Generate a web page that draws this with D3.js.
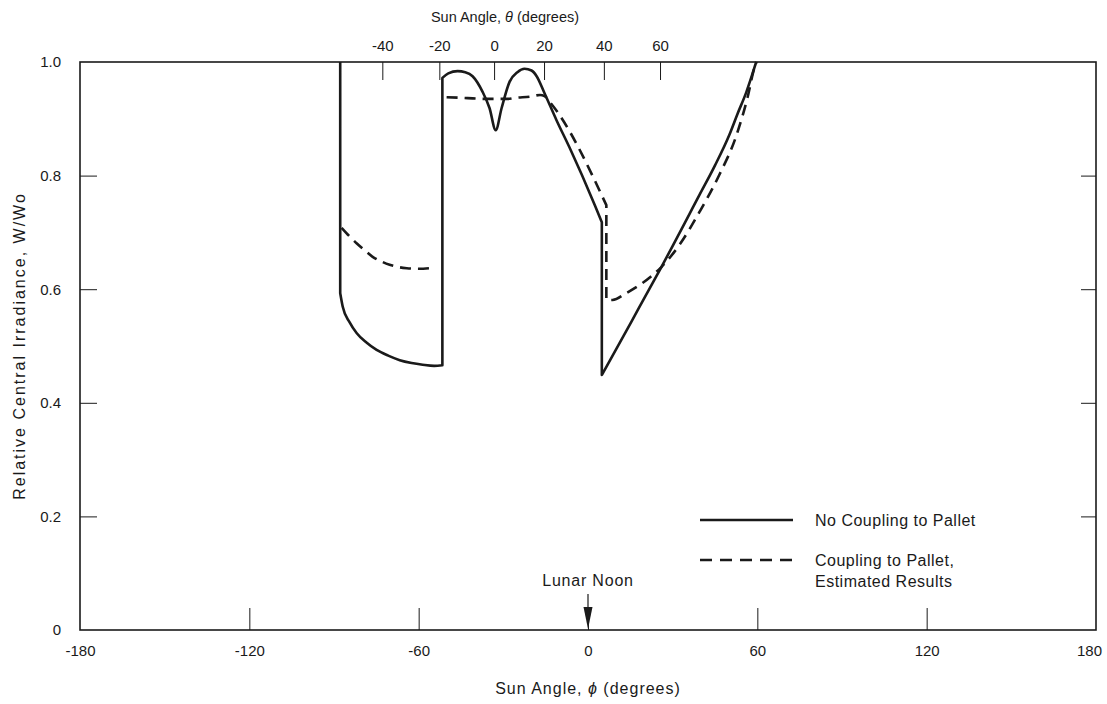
<!DOCTYPE html>
<html>
<head>
<meta charset="utf-8">
<script src="https://cdn.jsdelivr.net/npm/d3@7"></script>
<style>
  html, body { margin: 0; padding: 0; background: #fff; }
  svg text { font-family: "Liberation Sans", Arial, Helvetica, sans-serif; fill: #1a1a1a; }
</style>
</head>
<body>
<svg id="chart" width="1107" height="704"></svg>
<script>
// ---- data ----
const phiTicks = [-180, -120, -60, 0, 60, 120, 180];
const yTicks = [0, 0.2, 0.4, 0.6, 0.8, 1.0];
const thetaTicks = [-40, -20, 0, 20, 40, 60];
const thetaTickPhi = [-72.7, -52.5, -33.1, -15.4, 5.8, 25.7];

// No coupling to pallet (solid)
const solidPhi = [-87.8, -87.8, -86.9, -84.5, -82, -78.5, -74.9, -70.8, -66.7, -62.5, -58.6, -54.5, -51.6,
                  -51.6, -49.5, -46.2, -43.5, -40.9, -37.3, -34.9, -32.7, -30.6, -27.8, -25, -22.5, -20, -18.2, -15.4, -11.2, -6.5, 2.5, 4.9,
                  4.9, 15.5, 26.0, 39.5, 45.0, 50.1, 53.0, 56.1, 58.0, 59.6];
const solidVal = [1.0, 0.593, 0.569, 0.542, 0.523, 0.506, 0.493, 0.483, 0.475, 0.470, 0.467, 0.465, 0.466,
                  0.972, 0.98, 0.984, 0.982, 0.975, 0.947, 0.919, 0.880, 0.919, 0.965, 0.982, 0.988, 0.985, 0.975, 0.945, 0.898, 0.849, 0.747, 0.718,
                  0.449, 0.544, 0.639, 0.766, 0.818, 0.872, 0.909, 0.947, 0.975, 1.0];

// Coupling to pallet, estimated results (dashed)
const dashLeftPhi = [-87.3, -84.5, -82, -79, -76.3, -73.3, -70.3, -67.2, -64.2, -60, -56.1];
const dashLeftVal = [0.708, 0.693, 0.681, 0.668, 0.657, 0.649, 0.643, 0.639, 0.637, 0.636, 0.637];
const dashRightPhi = [-50.1, -45, -40.9, -36.5, -32.7, -28.5, -25.6, -20.5, -17, -15.4, -13.6, 6.5,
                      6.5, 8.7, 13.5, 18.2, 22, 26.0, 32.4, 39.5, 46.5, 52.6, 56.5, 59.0, 59.8];
const dashRightVal = [0.938, 0.937, 0.936, 0.935, 0.935, 0.935, 0.937, 0.939, 0.942, 0.940, 0.930, 0.748,
                      0.581, 0.581, 0.593, 0.607, 0.621, 0.639, 0.678, 0.736, 0.801, 0.871, 0.937, 0.990, 1.0];

const legendLabels = ["No Coupling to Pallet", "Coupling to Pallet,", "Estimated Results"];

// ---- layout ----
const svg = d3.select("#chart");
const L = 80, R = 1096, T = 62, B = 630;
const x = d3.scaleLinear().domain([-180, 180]).range([L, R]);
const y = d3.scaleLinear().domain([0, 1]).range([B, T]);
const ink = "#1a1a1a";

// frame
svg.append("rect").attr("x", L).attr("y", T).attr("width", R - L).attr("height", B - T)
  .attr("fill", "none").attr("stroke", ink).attr("stroke-width", 1.6);

// bottom axis
const gb = svg.append("g").attr("transform", `translate(0,${B})`)
  .call(d3.axisBottom(x).tickValues(phiTicks).tickSize(-22).tickPadding(15).tickFormat(d3.format("d")));
gb.select(".domain").remove();
gb.selectAll(".tick line").attr("stroke", ink).attr("stroke-width", 1)
  .attr("display", d => (d === -180 || d === 180) ? "none" : null);
gb.selectAll(".tick text").attr("font-size", 15)
  .attr("dx", d => d === 180 ? -7 : 0)
  .text(d => d < 0 ? "-" + Math.abs(d) : d);

// left axis
const gl = svg.append("g").attr("transform", `translate(${L},0)`)
  .call(d3.axisLeft(y).tickValues(yTicks).tickSize(-17).tickPadding(19)
    .tickFormat(d => d === 0 ? "0" : d3.format(".1f")(d)));
gl.select(".domain").remove();
gl.selectAll(".tick line").attr("stroke", ink).attr("stroke-width", 1)
  .attr("display", d => (d === 0 || d === 1) ? "none" : null);
gl.selectAll(".tick text").attr("font-size", 15);

// right axis (ticks only)
const gr = svg.append("g").attr("transform", `translate(${R},0)`)
  .call(d3.axisRight(y).tickValues(yTicks.filter(d => d > 0 && d < 1)).tickSize(-15).tickFormat(""));
gr.select(".domain").remove();
gr.selectAll(".tick line").attr("stroke", ink).attr("stroke-width", 1);

// top theta axis
const topTicks = thetaTicks.map((t, i) => ({ t, phi: thetaTickPhi[i] }));
const gt = svg.append("g");
gt.selectAll("line").data(topTicks).join("line")
  .attr("x1", d => x(d.phi)).attr("x2", d => x(d.phi))
  .attr("y1", T).attr("y2", T + 18).attr("stroke", ink).attr("stroke-width", 1);
gt.selectAll("text").data(topTicks).join("text")
  .attr("x", d => x(d.phi)).attr("y", T - 11).attr("text-anchor", "middle")
  .attr("font-size", 15).text(d => d.t < 0 ? "-" + Math.abs(d.t) : d.t);

// axis titles
const topTitle = svg.append("text").attr("x", 505).attr("y", 22).attr("text-anchor", "middle").attr("font-size", 14.5);
topTitle.append("tspan").text("Sun Angle, ");
topTitle.append("tspan").attr("font-style", "italic").text("θ");
topTitle.append("tspan").text(" (degrees)");

const botTitle = svg.append("text").attr("x", x(0)).attr("y", 694).attr("text-anchor", "middle")
  .attr("font-size", 16).attr("letter-spacing", 1);
botTitle.append("tspan").text("Sun Angle, ");
botTitle.append("tspan").attr("font-style", "italic").text("ϕ");
botTitle.append("tspan").text(" (degrees)");

svg.append("text").attr("transform", `translate(25,${(T + B) / 2}) rotate(-90)`)
  .attr("text-anchor", "middle").attr("font-size", 16).attr("letter-spacing", 2)
  .text("Relative Central Irradiance, W/Wo");

// curves: split at vertical jumps, smooth the runs between them
const zip = (a, b) => a.map((v, i) => [v, b[i]]);
function pieces(pts) {
  const out = [];
  let run = [pts[0]];
  for (let i = 1; i < pts.length; i++) {
    if (pts[i][0] === pts[i - 1][0]) {
      if (run.length > 1) out.push({ pts: run, smooth: true });
      out.push({ pts: [pts[i - 1], pts[i]], smooth: false });
      run = [pts[i]];
    } else run.push(pts[i]);
  }
  if (run.length > 1) out.push({ pts: run, smooth: true });
  return out;
}
const smoothLine = d3.line().x(d => x(d[0])).y(d => y(d[1])).curve(d3.curveMonotoneX);
const straight = d3.line().x(d => x(d[0])).y(d => y(d[1]));
function drawSeries(pts, dashed) {
  const d = pieces(pts).map((p, i) => {
    const s = (p.smooth ? smoothLine : straight)(p.pts);
    return i === 0 ? s : s.replace(/^M/, "L");
  }).join("");
  svg.append("path").attr("d", d).attr("fill", "none").attr("stroke", ink)
    .attr("stroke-width", 2.6).attr("stroke-linejoin", "round")
    .attr("stroke-dasharray", dashed ? "11,7" : null);
}
drawSeries(zip(solidPhi, solidVal), false);
drawSeries(zip(dashLeftPhi, dashLeftVal), true);
drawSeries(zip(dashRightPhi, dashRightVal), true);

// lunar noon marker
svg.append("text").attr("x", x(0)).attr("y", 586).attr("text-anchor", "middle")
  .attr("font-size", 16).attr("letter-spacing", 0.8).text("Lunar Noon");
svg.append("line").attr("x1", x(0)).attr("x2", x(0)).attr("y1", 594).attr("y2", 618)
  .attr("stroke", ink).attr("stroke-width", 1.2);
svg.append("path").attr("d", d3.line()([[x(0) - 4.5, 607], [x(0) + 4.5, 607], [x(0), B - 1]]) + "Z").attr("fill", ink);

// legend
const lg = svg.append("g");
lg.append("line").attr("x1", 700).attr("x2", 793).attr("y1", 520).attr("y2", 520)
  .attr("stroke", ink).attr("stroke-width", 2.6);
lg.append("line").attr("x1", 700).attr("x2", 795).attr("y1", 560).attr("y2", 560)
  .attr("stroke", ink).attr("stroke-width", 2.6).attr("stroke-dasharray", "12,8");
[[legendLabels[0], 526], [legendLabels[1], 566], [legendLabels[2], 587]].forEach(([t, yy]) => {
  lg.append("text").attr("x", 815).attr("y", yy).attr("font-size", 16).attr("letter-spacing", 0.5).text(t);
});
</script>
</body>
</html>
